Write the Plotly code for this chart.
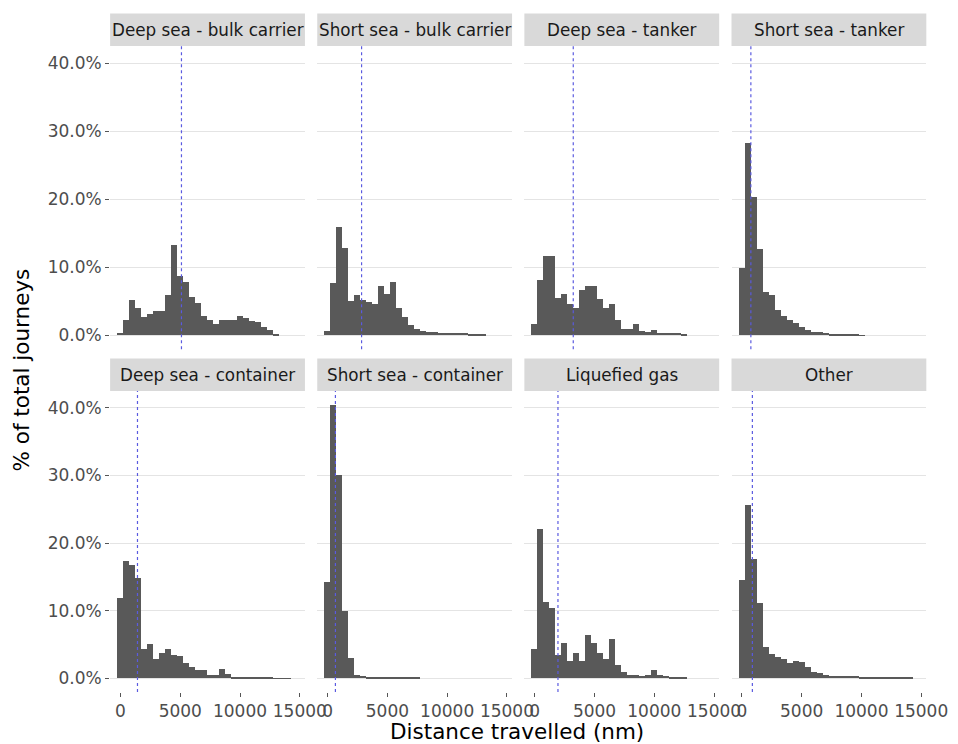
import plotly.graph_objects as go

# Histogram of journey distances by vessel segment (binwidth 500 nm, bins centred on multiples of 500)
BIN_WIDTH = 500

segments = [
    "Deep sea - bulk carrier", "Short sea - bulk carrier", "Deep sea - tanker", "Short sea - tanker",
    "Deep sea - container", "Short sea - container", "Liquefied gas", "Other",
]

deep_bulk = [0.3, 2.2, 5.2, 4.0, 2.7, 3.1, 3.6, 3.6, 6.0, 13.3, 8.7, 7.9, 5.6, 4.8, 2.8, 2.3,
             1.7, 2.2, 2.2, 2.3, 2.8, 2.6, 2.1, 2.0, 1.3, 0.8, 0.25]
short_bulk = [0.6, 7.7, 16.0, 12.9, 5.1, 5.9, 5.2, 4.9, 4.6, 7.2, 6.1, 7.8, 4.0, 2.7, 1.6, 1.0,
              0.6, 0.5, 0.5, 0.4, 0.4, 0.4, 0.3, 0.4, 0.2, 0.1, 0.1]
deep_tanker = [1.7, 8.2, 11.7, 11.7, 5.5, 6.1, 4.6, 4.0, 6.7, 7.2, 7.2, 5.3, 4.0, 4.6, 2.3, 1.0,
               1.0, 1.7, 0.7, 0.5, 0.8, 0.35, 0.3, 0.3, 0.3, 0.15]
short_tanker = [9.9, 28.3, 20.3, 12.7, 6.4, 5.9, 3.8, 2.9, 2.2, 1.8, 1.3, 0.8, 0.5, 0.45, 0.3,
                0.15, 0.1, 0.1, 0.1, 0.1, 0.05]
deep_container = [11.9, 17.3, 16.8, 14.8, 4.3, 5.0, 2.8, 3.7, 4.3, 3.5, 3.3, 2.3, 1.7, 1.2, 1.2,
                  0.55, 0.55, 1.4, 0.7, 0.2, 0.1, 0.1, 0.1, 0.08, 0.05, 0.05, 0.03, 0.03, 0.02]
short_container = [14.3, 40.4, 30.1, 10.0, 3.0, 0.5, 0.3, 0.2, 0.2, 0.15, 0.15, 0.1, 0.1, 0.1,
                   0.05, 0.05]
liquefied_gas = [4.3, 22.1, 11.3, 10.4, 3.5, 5.2, 2.5, 3.8, 2.5, 6.4, 5.2, 3.8, 2.8, 5.8, 2.0,
                 1.0, 0.5, 0.5, 0.4, 0.5, 1.2, 0.5, 0.3, 0.2, 0.1, 0.05]
other = [14.6, 25.7, 17.6, 11.2, 4.7, 3.6, 3.1, 2.8, 2.3, 2.6, 2.4, 1.7, 1.0, 0.8, 0.5, 0.4,
         0.3, 0.3, 0.3, 0.3, 0.2, 0.2, 0.15, 0.1, 0.1, 0.1, 0.05, 0.05, 0.05]

shares = [deep_bulk, short_bulk, deep_tanker, short_tanker,
          deep_container, short_container, liquefied_gas, other]

# Median distance per segment (nm), shown as a dotted reference line
medians = [5100, 2840, 3220, 750, 1420, 650, 1940, 875]

y_ticks = [0, 10, 20, 30, 40]
y_tick_labels = ["0.0%", "10.0%", "20.0%", "30.0%", "40.0%"]
x_ticks = [0, 5000, 10000, 15000]
x_tick_labels = ["0", "5000", "10000", "15000"]

W, H = 958, 744
FONT = "DejaVu Sans"
BAR_COLOR = "#595959"
GRID_COLOR = "#e4e4e4"
TICK_SIZE = 17

# panel geometry in pixels
PANEL_LEFT0, PANEL_STEP, PANEL_W = 112.7, 212.0, 199.4
ROWS = [  # (strip top, panel top, panel bottom)
    (13.5, 46.0, 349.3),
    (358.5, 391.0, 692.0),
]
X_RANGE = [-870, 15430]
Y_RANGE = [-2.03, 42.5]

fig = go.Figure()
layout = dict(
    width=W, height=H,
    margin=dict(l=0, r=0, t=0, b=0),
    paper_bgcolor="white", plot_bgcolor="white",
    showlegend=False, bargap=0,
    font=dict(family=FONT, size=TICK_SIZE, color="#4d4d4d"),
)
shapes, annotations = [], []

for i, (name, vals) in enumerate(zip(segments, shares)):
    row, col = divmod(i, 4)
    strip_top, p_top, p_bot = ROWS[row]
    left = PANEL_LEFT0 + col * PANEL_STEP
    right = left + PANEL_W
    n = i + 1
    xa = "x" if n == 1 else f"x{n}"
    ya = "y" if n == 1 else f"y{n}"

    fig.add_trace(go.Bar(
        x=[k * BIN_WIDTH for k in range(len(vals))], y=vals, width=BIN_WIDTH,
        marker=dict(color=BAR_COLOR, line=dict(width=0)),
        xaxis=xa, yaxis=ya, hoverinfo="skip",
    ))

    layout[f"xaxis{n if n > 1 else ''}"] = dict(
        domain=[left / W, right / W], range=X_RANGE, anchor=ya,
        showgrid=False, zeroline=False, showline=False,
        tickmode="array", tickvals=x_ticks, ticktext=x_tick_labels,
        showticklabels=(row == 1), ticks="outside" if row == 1 else "",
        ticklen=4, tickcolor="#555555", tickwidth=1,
        tickfont=dict(family=FONT, size=TICK_SIZE, color="#4d4d4d"),
    )
    layout[f"yaxis{n if n > 1 else ''}"] = dict(
        domain=[1 - p_bot / H, 1 - p_top / H], range=Y_RANGE, anchor=xa,
        tickmode="array", tickvals=y_ticks, ticktext=y_tick_labels,
        showgrid=True, gridcolor=GRID_COLOR, gridwidth=1,
        zeroline=False, showline=False,
        showticklabels=(col == 0), ticks="outside" if col == 0 else "",
        ticklen=4, tickcolor="#555555", tickwidth=1,
        tickfont=dict(family=FONT, size=TICK_SIZE, color="#4d4d4d"),
    )

    # median line
    shapes.append(dict(
        type="line", xref=xa, yref=f"{ya} domain",
        x0=medians[i], x1=medians[i], y0=0, y1=1,
        line=dict(color="#5a5ae0", width=1.2, dash="dot"),
    ))
    # facet strip
    shapes.append(dict(
        type="rect", xref="paper", yref="paper",
        x0=left / W, x1=right / W, y0=1 - p_top / H, y1=1 - strip_top / H,
        fillcolor="#d9d9d9", line=dict(width=0), layer="below",
    ))
    annotations.append(dict(
        text=name, xref="paper", yref="paper",
        x=(left + right) / 2 / W, y=1 - (strip_top + p_top) / 2 / H,
        xanchor="center", yanchor="middle", showarrow=False,
        font=dict(family=FONT, size=16.8, color="#1a1a1a"),
    ))

annotations.append(dict(
    text="Distance travelled (nm)", xref="paper", yref="paper",
    x=529 / W, y=1 - 731 / H, xanchor="center", yanchor="middle", showarrow=False,
    font=dict(family=FONT, size=21.5, color="#000000"),
))
annotations.append(dict(
    text="% of total journeys", xref="paper", yref="paper",
    x=22 / W, y=1 - 370 / H, xanchor="center", yanchor="middle", showarrow=False,
    textangle=-90, font=dict(family=FONT, size=21.5, color="#000000"),
))

layout["shapes"] = shapes
layout["annotations"] = annotations
fig.update_layout(**layout)
fig.write_html("out.html")
